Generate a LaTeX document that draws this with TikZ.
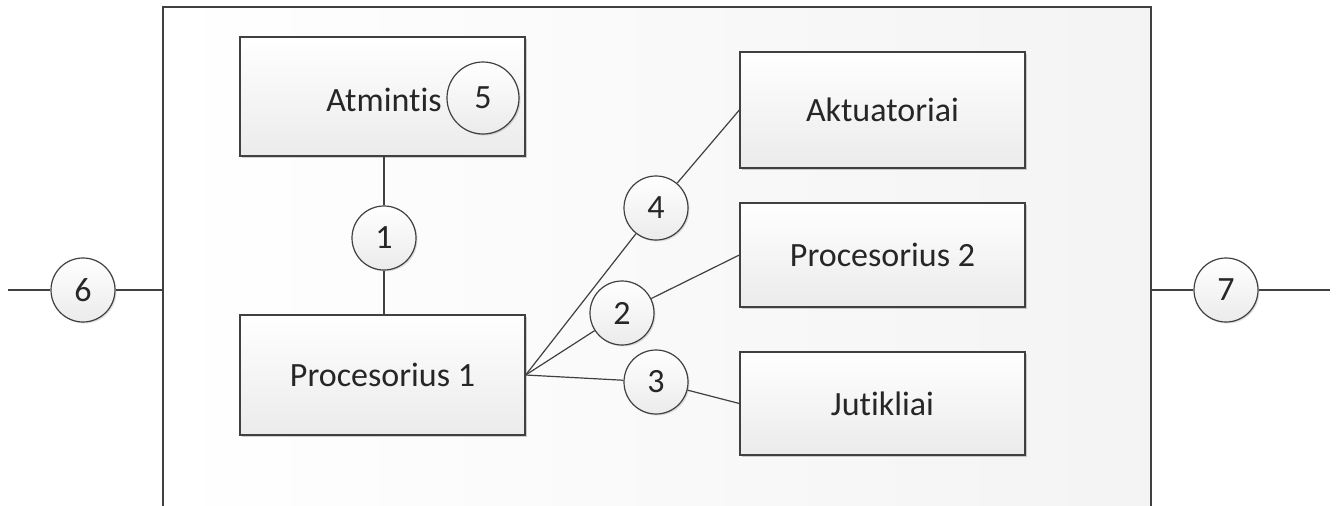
\documentclass[tikz,border=0pt]{standalone}
\usepackage{fontspec}
\setmainfont{Carlito}[Ligatures={NoCommon}]
\usetikzlibrary{shadows}
\definecolor{edge}{HTML}{404040}
\definecolor{boxbot}{HTML}{EBEBEB}
\tikzset{
  lbl/.style={font=\fontsize{34}{37}\selectfont, text=black!85},
  blk/.style={draw=edge, line width=1.3pt, rectangle, top color=white, bottom color=boxbot,
    minimum width=285pt, lbl,
    drop shadow={shadow xshift=2pt, shadow yshift=-2pt, opacity=0.18, fill=black}},
  num/.style={draw=edge, line width=1.2pt, circle, inner sep=0pt, minimum size=64pt,
    top color=white, bottom color=boxbot, lbl,
    drop shadow={shadow xshift=1.5pt, shadow yshift=-1.5pt, opacity=0.12, fill=black}},
  wire/.style={draw=edge, line width=1.2pt}
}
\begin{document}
\begin{tikzpicture}[x=1pt,y=-1pt]
\useasboundingbox (0,0) rectangle (1336,506);
\clip (0,0) rectangle (1336,506);
% outer frame
\fill[left color=white, right color=gray!9] (163,7) rectangle (1151,520);
\draw[wire, line width=1.4pt] (163,520) -- (163,7) -- (1151,7) -- (1151,520);
\coordinate (fl) at (163,290);
\coordinate (fr) at (1151,290);
\coordinate (el) at (8,290);
\coordinate (er) at (1330,290);
% blocks
\node[blk, minimum height=119pt] (mem) at (382.5,96.5) {};
\node[lbl] (memt) at (384,100) {Atmintis};
\node[blk, minimum height=120pt] (p1) at (382.5,375) {Procesorius 1};
\node[blk, minimum height=116pt] (akt) at (882.5,110) {Aktuatoriai};
\node[blk, minimum height=104pt] (p2) at (882.5,255) {Procesorius 2};
\node[blk, minimum height=103pt] (jut) at (882.5,403.5) {Jutikliai};
% circles
\node[num, minimum size=72pt] (c5) at (483,98) {5};
\node[num] (c1) at (384,238) {1};
\node[num] (c4) at (656,208) {4};
\node[num] (c2) at (622,313) {2};
\node[num] (c3) at (656,382) {3};
\node[num] (c6) at (83,290) {6};
\node[num] (c7) at (1226,290) {7};
% connectors
\draw[wire] (mem.south -| c1) -- (c1);
\draw[wire] (c1) -- (p1.north -| c1);
\draw[wire] (p1.east) -- (c4);
\draw[wire] (c4) -- (akt.west);
\draw[wire] (p1.east) -- (c2);
\draw[wire] (c2) -- (p2.west);
\draw[wire] (p1.east) -- (c3);
\draw[wire] (c3) -- (jut.west);
\draw[wire] (el) -- (c6);
\draw[wire] (c6) -- (fl);
\draw[wire] (fr) -- (c7);
\draw[wire] (c7) -- (er);
\end{tikzpicture}
\end{document}
